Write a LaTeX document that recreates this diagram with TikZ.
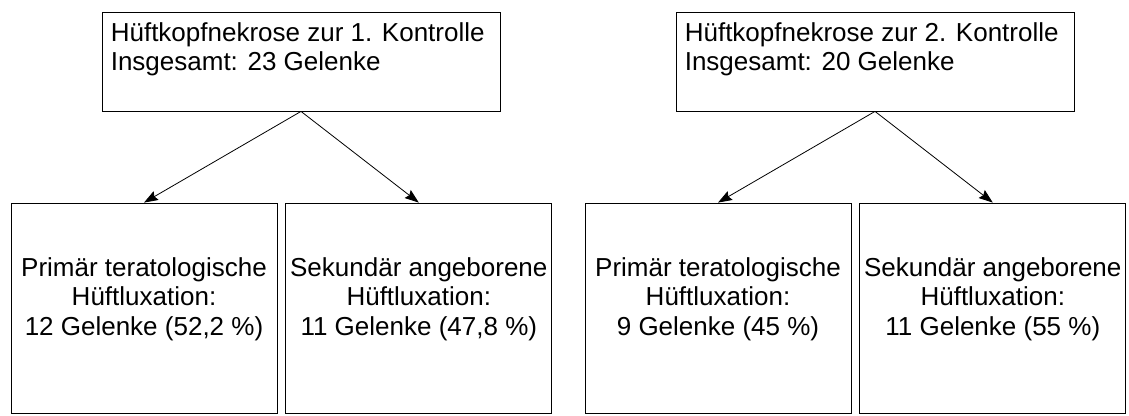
\documentclass[tikz,border=0pt]{standalone}
\usepackage{fontspec}
\setmainfont{Liberation Sans}
\usetikzlibrary{arrows.meta,positioning}

\begin{document}
\begin{tikzpicture}[x=1pt,y=-1pt,>={Stealth[length=14pt,width=10pt,inset=2pt]},
  kopf/.style={draw,line width=0.8pt,minimum width=398pt,minimum height=99pt,inner sep=0pt},
  kopftext/.style={anchor=north west,align=left,inner sep=0pt,font=\fontsize{26}{29.5}\selectfont},
  gruppe/.style={draw,line width=0.8pt,minimum width=266pt,minimum height=210pt,align=center,inner sep=0pt,font=\fontsize{26}{29.5}\selectfont}]
\useasboundingbox (0,0) rectangle (1129,415);
% Kontrollen
\node[kopf] (k1) at (301,61.5) {};
\node[kopftext] (k1t) at ([xshift=9pt,yshift=-10.5pt]k1.north west) {Hüftkopfnekrose zur 1. Kontrolle\\Insgesamt: 23 Gelenke};
\node[kopf] (k2) at (875,61.5) {};
\node[kopftext] (k2t) at ([xshift=9pt,yshift=-10.5pt]k2.north west) {Hüftkopfnekrose zur 2. Kontrolle\\Insgesamt: 20 Gelenke};
% Gruppen
\node[gruppe] (g1) at (144,308) {Primär teratologische\\Hüftluxation:\\12 Gelenke (52,2 \%)\rule[-23pt]{0pt}{1pt}};
\node[gruppe,right=8pt of g1] (g2) {Sekundär angeborene\\Hüftluxation:\\11 Gelenke (47,8 \%)\rule[-23pt]{0pt}{1pt}};
\node[gruppe] (g3) at (718,308) {Primär teratologische\\Hüftluxation:\\9 Gelenke (45 \%)\rule[-23pt]{0pt}{1pt}};
\node[gruppe,right=8pt of g3] (g4) {Sekundär angeborene\\Hüftluxation:\\11 Gelenke (55 \%)\rule[-23pt]{0pt}{1pt}};
% Pfeile
\draw[->,line width=0.8pt] (k1.south) -- (g1.north);
\draw[->,line width=0.8pt] (k1.south) -- (g2.north);
\draw[->,line width=0.8pt] (k2.south) -- (g3.north);
\draw[->,line width=0.8pt] (k2.south) -- (g4.north);
\end{tikzpicture}
\end{document}
